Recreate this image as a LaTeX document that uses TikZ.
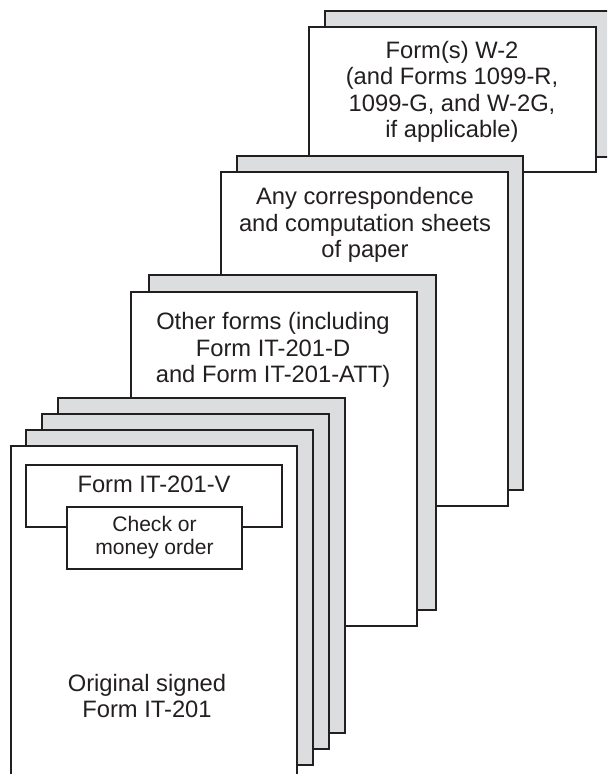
\documentclass[tikz,border=0pt]{standalone}
\usepackage{fontspec}
\setmainfont{Liberation Sans}
\definecolor{sheetgray}{RGB}{220,221,222}
\definecolor{inkline}{RGB}{35,31,32}
\tikzset{
  backsheet/.style={draw=inkline,fill=sheetgray,line width=0.9pt},
  frontsheet/.style={draw=inkline,fill=white,line width=0.9pt},
  sheettext/.style={align=center,inner sep=0pt,text=inkline,font=\fontsize{17.8}{19.8}\selectfont},
  smalltext/.style={align=center,inner sep=0pt,text=inkline,font=\fontsize{15.8}{17.3}\selectfont}
}
\begin{document}
\begin{tikzpicture}[x=0.75pt,y=-0.75pt]
\useasboundingbox (0,0) rectangle (607,774);
\clip (0,0) rectangle (607,774);
% W-2 sheets
\draw[backsheet](325,11)rectangle(620,157);
\draw[frontsheet](309,27)rectangle(596,172);
\node[sheettext] (wtwo) at (452,92) {Form(s) W-2\\(and Forms 1099-R,\\1099-G, and W-2G,\\if applicable)};
% correspondence sheets
\draw[backsheet](237,156)rectangle(523,490);
\draw[frontsheet](221,172)rectangle(508,506);
\node[sheettext] (corresp) at (365,225) {Any correspondence\\and computation sheets\\of paper};
% other forms
\draw[backsheet](149,275)rectangle(436,610);
\draw[frontsheet](131,292)rectangle(417,626);
\node[sheettext] (otherforms) at (273,350) {Other forms (including\\Form IT-201-D\\and Form IT-201-ATT)};
% original return stack
\foreach \d in {0,16,32}\draw[backsheet](58-\d,398+\d)rectangle(345-\d,733+\d);
\draw[frontsheet](11,446)rectangle(297,790);
\draw[frontsheet](26,465)rectangle(282,527);
\node[sheettext] (voucher) at (154,484) {Form IT-201-V};
\draw[frontsheet](67,507)rectangle(242,569);
\node[smalltext] (payment) at (154.5,538) {Check or\\money order};
\node[sheettext] (original) at (147,696) {Original signed\\Form IT-201};
\end{tikzpicture}
\end{document}
